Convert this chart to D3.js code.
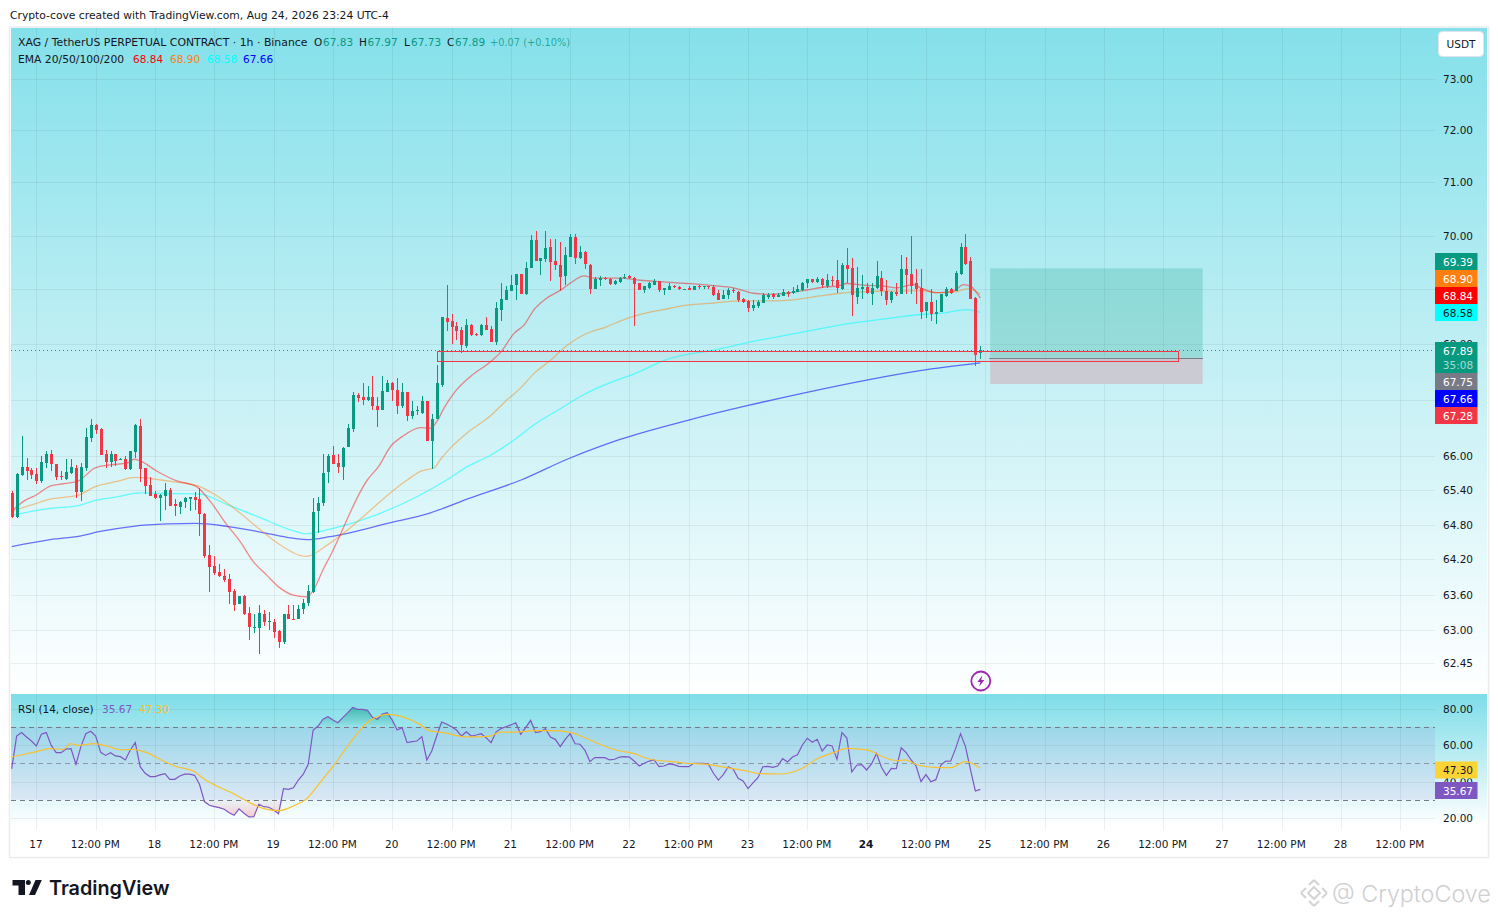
<!DOCTYPE html>
<html><head><meta charset="utf-8">
<script src="https://cdn.jsdelivr.net/npm/d3@7"></script>
<style>
html,body{margin:0;padding:0;background:#fff;width:1498px;height:918px;overflow:hidden}
text{font-family:"DejaVu Sans",sans-serif;font-size:10.5px;fill:#131722}
</style></head><body>
<script>
const candleHigh=[65.38,65.70,66.35,65.96,65.79,65.79,66.00,66.08,66.10,65.85,
65.73,65.95,65.94,65.84,65.87,66.50,66.66,66.57,66.49,66.11,
66.08,66.04,65.97,65.99,66.08,66.57,66.66,65.78,65.62,65.38,
65.33,65.53,65.44,65.24,65.21,65.27,65.28,65.37,65.44,65.00,
64.45,64.25,64.12,64.04,63.95,63.69,63.58,63.59,63.39,63.27,
63.42,63.34,63.31,63.18,63.00,63.27,63.42,63.42,63.42,63.52,
63.76,65.26,65.27,66.03,66.03,66.18,66.04,66.16,66.56,67.14,
67.12,67.29,67.24,67.43,67.04,67.43,67.36,67.31,67.39,67.29,
67.14,66.98,66.89,67.07,66.98,66.75,67.62,68.49,69.09,68.54,
68.40,68.31,68.45,68.37,68.21,68.37,68.49,68.33,68.76,69.12,
69.06,69.26,69.29,69.28,69.51,70.01,70.09,69.58,70.09,69.94,
69.94,69.88,69.78,70.03,70.03,69.81,69.72,69.48,69.23,69.24,
69.23,69.21,69.18,69.23,69.29,69.26,69.23,69.11,69.06,69.14,
69.19,69.15,69.03,69.11,69.08,69.06,69.01,69.06,69.06,69.09,
69.07,69.07,69.09,68.99,68.99,69.03,69.02,68.97,68.85,68.80,
68.80,68.80,68.94,68.94,68.93,68.93,69.00,68.98,69.04,69.08,
69.14,69.20,69.20,69.23,69.22,69.28,69.25,69.55,69.49,69.76,
69.59,69.42,69.27,69.12,69.11,69.52,69.34,69.17,68.98,69.12,
69.63,69.60,70.00,69.38,69.38,68.77,69.00,68.80,68.92,69.04,
69.02,69.34,69.86,70.03,69.61,68.86,67.97];
const candleLow=[64.91,64.92,65.64,65.57,65.59,65.50,65.53,65.79,65.73,65.57,
65.57,65.57,65.68,65.26,65.21,65.73,66.24,66.38,66.01,65.79,
65.80,65.82,65.92,65.75,65.75,65.97,65.54,65.33,65.30,65.24,
64.86,65.06,65.12,64.95,64.99,65.08,65.03,65.06,64.61,64.22,
63.65,63.93,63.89,63.82,63.44,63.32,63.44,63.26,62.84,62.95,
62.59,63.06,63.00,62.87,62.70,62.77,63.18,63.17,63.18,63.27,
63.41,63.63,64.65,65.12,65.53,65.85,65.70,65.58,66.15,66.42,
66.95,66.91,66.98,66.81,66.51,66.82,67.14,66.98,66.75,66.85,
66.62,66.66,66.72,66.75,66.26,65.76,66.65,67.22,68.24,68.00,
68.08,67.83,67.93,68.14,68.15,68.14,68.26,68.03,67.98,68.43,
68.80,68.97,68.80,68.91,68.89,69.40,69.52,69.26,69.51,69.15,
69.36,68.97,69.09,69.61,69.48,69.57,69.37,68.91,69.00,69.06,
69.17,69.08,69.09,69.12,69.20,69.20,68.33,68.99,68.93,69.01,
69.09,68.95,68.90,68.99,69.03,68.99,68.99,68.99,68.99,69.01,
69.01,69.01,68.88,68.80,68.82,68.82,68.93,68.77,68.75,68.58,
68.60,68.66,68.75,68.83,68.83,68.86,68.88,68.86,68.92,68.95,
68.98,69.03,69.12,69.11,69.03,69.02,69.06,68.94,68.99,69.12,
68.51,68.74,68.83,68.91,68.71,69.00,68.88,68.72,68.75,68.88,
68.91,68.91,68.91,68.74,68.45,68.47,68.43,68.37,68.58,68.87,
68.91,68.97,69.27,69.46,68.82,67.60,67.73];
const candleOpen=[65.34,64.93,65.66,65.80,65.75,65.68,65.55,65.87,66.03,65.85,
65.64,65.59,65.69,65.78,65.37,65.78,66.32,66.55,66.48,66.03,
65.90,66.03,65.92,65.95,65.76,66.07,66.53,65.78,65.48,65.33,
65.26,65.30,65.40,65.15,65.10,65.19,65.24,65.28,65.24,64.99,
64.27,64.08,63.99,63.91,63.86,63.66,63.44,63.57,63.28,63.04,
63.04,63.27,63.14,63.14,62.98,62.79,63.27,63.19,63.19,63.35,
63.46,63.65,65.03,65.18,65.72,66.01,65.88,65.80,66.15,66.48,
67.08,67.05,67.00,67.05,66.89,66.82,67.14,67.30,67.18,66.89,
67.13,66.71,66.79,66.76,66.98,66.26,66.65,67.27,68.48,68.42,
68.33,68.26,67.97,68.35,68.19,68.16,68.35,68.28,68.04,68.62,
68.81,68.97,69.08,69.28,68.91,69.40,69.92,69.52,69.57,69.79,
69.52,69.45,69.25,69.61,69.97,69.58,69.70,69.46,69.01,69.18,
69.21,69.20,69.10,69.13,69.21,69.25,69.21,69.11,68.99,69.03,
69.09,69.15,68.99,68.99,69.06,69.04,68.99,69.03,68.99,69.06,
69.05,69.06,69.04,68.93,68.83,68.89,68.99,68.96,68.83,68.79,
68.65,68.69,68.75,68.87,68.91,68.87,68.88,68.96,68.93,68.96,
68.99,69.11,69.19,69.14,69.20,69.07,69.17,69.17,69.00,69.46,
69.40,68.87,69.01,69.04,68.91,69.02,69.22,68.98,68.80,68.95,
68.92,69.37,69.28,69.11,69.03,68.60,68.77,68.54,68.58,68.88,
69.00,68.98,69.28,69.79,69.52,68.85,67.83];
const candleClose=[64.93,65.68,65.81,65.73,65.66,65.56,65.89,66.03,65.85,65.62,
65.62,65.72,65.80,65.37,65.80,66.33,66.55,66.45,66.01,65.89,
66.03,65.91,65.95,65.76,66.08,66.55,65.77,65.47,65.30,65.26,
65.31,65.40,65.12,65.12,65.20,65.26,65.27,65.22,64.98,64.26,
64.07,63.96,63.91,63.84,63.65,63.42,63.58,63.27,63.05,63.05,
63.28,63.14,63.15,62.97,62.79,63.27,63.18,63.18,63.36,63.45,
63.66,65.02,65.18,65.70,65.99,65.86,65.80,66.14,66.49,67.09,
67.02,67.00,67.05,66.88,66.82,67.16,67.30,67.18,66.89,67.13,
66.71,66.79,66.81,66.98,66.26,66.65,67.29,68.49,68.41,68.32,
68.24,67.98,68.35,68.17,68.16,68.35,68.26,68.04,68.65,68.83,
68.99,69.09,69.28,68.91,69.40,69.92,69.52,69.58,69.77,69.50,
69.45,69.23,69.63,69.97,69.59,69.70,69.47,69.01,69.20,69.21,
69.20,69.10,69.15,69.22,69.23,69.21,69.10,68.99,69.06,69.11,
69.15,68.99,69.02,69.06,69.05,69.00,69.01,68.99,69.06,69.04,
69.06,69.04,68.90,68.81,68.89,68.99,68.98,68.81,68.76,68.65,
68.72,68.77,68.90,68.89,68.87,68.89,68.96,68.91,68.98,69.00,
69.11,69.19,69.14,69.20,69.09,69.17,69.15,69.02,69.45,69.37,
68.90,69.02,69.04,68.93,69.03,69.24,68.97,68.80,68.95,68.91,
69.37,69.26,69.06,69.00,68.59,68.77,68.54,68.59,68.92,69.00,
68.94,69.30,69.79,69.47,68.83,67.80,67.89];

const ema20Bars=[0,2.7,4.7,7.8,10.5,13.5,16.9,19.9,23.3,24.8,26,29.4,33.4,37.4,40.1,43.5,46.2,48.9,51.6,54,57,59.7,61,63.1,64.4,72,74.3,76.7,79,82.8,84.8,86.1,87.5,89.8,92.9,96.9,99,101.7,103.7,105.7,108.1,111.1,113.1,115.8,117.8,123.2,127.2,131.9,136.6,142,146.1,150.1,153.5,156.9,160.9,165,167,169,172.4,176.4,179.1,182.5,183.9,187.2,190.6,192.6,194,196];
const ema20=[65.03,65.22,65.30,65.47,65.51,65.56,65.79,65.84,65.87,65.94,65.91,65.73,65.56,65.46,65.21,64.80,64.51,64.16,63.93,63.73,63.59,63.56,63.67,64.04,64.25,65.58,65.82,66.17,66.34,66.50,66.49,66.62,66.85,67.15,67.42,67.68,67.86,68.20,68.35,68.63,68.83,68.99,69.12,69.25,69.21,69.21,69.17,69.14,69.11,69.07,69.03,68.93,68.91,68.93,68.99,69.05,69.06,69.11,69.08,69.06,69.03,69.09,69.03,68.94,68.97,69.09,69.06,68.84];
const ema50Bars=[0,4.7,7.8,13.5,16.9,21.3,25,27.3,31.4,37.8,41.5,46.2,50.3,54.3,59.7,64.4,80.1,82.8,85.5,86.8,88.8,92.2,96.9,100.3,103,105.7,109.1,112.4,115.8,120.5,123.1,127.2,131.9,136.6,142,147.4,153.5,158.2,163.6,167.7,170.4,177.1,183.9,187.2,190.6,193.3,194.6,196];
const ema50=[65.03,65.16,65.24,65.31,65.46,65.55,65.62,65.61,65.56,65.47,65.30,65.00,64.71,64.45,64.25,64.48,65.58,65.73,65.79,65.94,66.14,66.41,66.71,67.00,67.21,67.47,67.71,67.98,68.17,68.32,68.42,68.54,68.63,68.71,68.75,68.79,68.79,68.81,68.88,68.93,68.95,68.97,68.98,68.94,68.95,69.01,68.99,68.91];
const ema100Bars=[0,7.8,13.5,16.9,21.3,26,31.4,38.1,43.5,50.3,55.7,59.7,64.4,88.1,92.2,96.9,102.3,105.7,111.1,115.8,121.9,125.1,133.2,142,150.1,158.9,169,175.8,183.9,187.9,193.3,196];
const ema100=[64.96,65.08,65.13,65.22,65.28,65.35,65.34,65.33,65.15,64.92,64.73,64.64,64.72,65.58,65.81,66.01,66.32,66.55,66.84,67.09,67.33,67.43,67.74,67.89,68.05,68.20,68.37,68.45,68.54,68.56,68.63,68.58];
const ema200Bars=[0,7.8,13.8,17.9,24.6,31.4,37.4,43.5,50.3,55.7,59.7,64.4,76.5,84.6,92.7,103.2,112.4,119.2,123.1,136.8,148.8,160.9,173,183.8,196];
const ema200=[64.42,64.54,64.60,64.68,64.77,64.81,64.82,64.77,64.67,64.58,64.54,64.59,64.83,65.00,65.26,65.58,65.94,66.17,66.29,66.63,66.89,67.13,67.35,67.52,67.66];

const rsi=[47.0,64.9,66.8,64.4,62.2,59.5,65.9,66.8,59.8,55.8,55.8,57.8,58.0,49.4,59.1,66.2,67.5,64.9,56.0,54.3,
55.8,54.0,53.6,51.8,57.3,61.3,48.1,44.5,42.7,42.7,43.6,44.3,41.2,41.2,43.0,44.0,44.0,43.4,38.5,29.0,
27.0,26.2,25.7,24.8,22.9,21.5,25.0,22.6,20.6,20.7,27.5,26.2,25.9,24.4,22.4,36.1,35.7,36.6,40.8,44.0,
49.4,68.2,70.4,74.1,75.5,73.7,72.2,75.0,77.7,80.6,79.5,79.5,79.0,75.2,74.1,77.0,77.7,73.7,68.2,69.5,
61.3,61.8,62.2,64.6,51.8,56.7,64.9,72.6,71.5,70.0,68.2,64.9,67.3,64.9,65.5,66.2,64.0,61.3,67.1,69.0,
70.0,71.0,72.2,65.9,69.5,73.5,66.8,67.3,69.0,64.4,63.1,59.1,63.1,66.2,60.7,60.4,57.1,50.9,53.1,53.1,
53.1,51.8,52.2,53.4,53.6,53.4,51.1,48.5,50.0,51.2,51.8,48.1,48.5,49.6,49.2,48.3,48.1,48.1,50.0,50.0,
50.0,49.4,44.5,40.8,43.8,48.1,46.7,41.7,40.3,36.1,39.2,42.1,48.1,48.3,47.8,48.5,52.5,50.7,53.4,54.7,
60.0,63.7,61.5,63.1,56.7,60.0,59.5,52.2,66.8,63.8,45.2,48.9,49.2,46.3,49.6,55.4,47.8,43.4,47.2,47.0,
58.5,55.8,51.8,48.5,39.9,43.8,39.9,41.0,48.9,51.2,51.1,58.0,66.2,59.1,46.7,34.8,35.67];
const rsiMaBars=[0,5,7.8,10.5,11.8,13.5,16.5,19.2,22,24.6,27.3,30.7,33.4,36.8,38.8,41.5,44.9,48.2,51,54,57,59.7,62.4,65.1,68.5,71.9,76.2,79.3,82.6,84.7,87.4,92,96.8,98.9,102.2,105.6,109,112.8,115.7,119,122.4,125.8,129.2,132.6,136.6,140.7,144.7,148.1,151.5,155.5,159.6,163,166.3,169,173.1,176.4,179.2,180.8,183.2,187.3,190,193,196];
const rsiMa=[53.4,56.4,58.0,57.6,60.7,59.8,60.7,59.5,57.4,57.6,55.8,51.2,48.1,45.8,41.6,37.5,33.3,28.4,25.1,24.0,26.6,30.6,39.4,48.5,61.3,72.2,76.8,75.3,71.3,67.7,66.8,64.4,64.9,67.1,67.1,67.9,67.9,67.1,64.4,60.4,57.1,55.4,52.2,51.1,50.0,49.4,47.6,46.1,44.3,44.1,46.7,52.5,55.8,58.2,57.3,53.4,51.4,51.8,49.2,47.6,47.6,50.9,47.30];

const priceGrid=[73,72,71,70,69,68,67,66,65.4,64.8,64.2,63.6,63,62.45];
const priceTicks=[73,72,71,70,68,66,65.4,64.8,64.2,63.6,63,62.45];
const rsiTicks=[80,60,40,20];
const rsiLevels=[70,50,30];
const timeBars=d3.range(5,283,12);
const timeLabels=["17","12:00 PM","18","12:00 PM","19","12:00 PM","20","12:00 PM","21","12:00 PM","22","12:00 PM","23","12:00 PM","24","12:00 PM","25","12:00 PM","26","12:00 PM","27","12:00 PM","28","12:00 PM"];
const takeProfit=69.39, entryPrice=67.75, stopLoss=67.28, lastPrice=67.89;
const positionBars=[198,241];
const zoneBars=[86,236], zonePrices=[67.87,67.69];
const priceTags=[["69.39","#089981","#fff",261.5],["68.90","#ff7f0e","#fff",278.5],["68.84","#ff0000","#fff",295.5],["68.58","#00ffff","#131722",312.5],["67.75","#787b86","#fff",381.5],["67.66","#0000ff","#fff",398.5],["67.28","#f23645","#fff",415.5]];

const svg=d3.select("body").append("svg").attr("width",1498).attr("height",918).style("display","block");
const defs=svg.append("defs");
function grad(id,top,stops){const g=defs.append("linearGradient").attr("id",id).attr("x1",0).attr("x2",0).attr("y1",0).attr("y2",1);
 stops.forEach(s=>g.append("stop").attr("offset",s[0]).attr("stop-color",s[1]).attr("stop-opacity",s[2]==null?1:s[2]));}
grad("bgMain",0,[[0,"#84e0ea"],[1,"#ffffff"]]);
grad("bgRsi",0,[[0,"#7edde8"],[0.97,"#ffffff"]]);
grad("obFill",0,[[0,"#089981",0.55],[1,"#089981",0.05]]);
grad("osFill",0,[[0,"#f23645",0.02],[1,"#f23645",0.25]]);

const L=10,R=1488,PR=1435,T=28,B=693,RT=694,RB=830;
const x=d3.scaleLinear().domain([0,196]).range([11.7,980.3]);
const y=d3.scaleLog().domain([73,63]).range([78.5,630]);
const ry=d3.scaleLinear().domain([80,20]).range([708.5,818]);
const crisp=v=>Math.round(v)+.5;

// header & frame
svg.append("text").attr("x",10).attr("y",19).style("font-size","10.75px").text("Crypto-cove created with TradingView.com, Aug 24, 2026 23:24 UTC-4");
svg.append("rect").attr("x",9.5).attr("y",27).attr("width",1479).attr("height",830.5).attr("fill","#fff").attr("stroke","#e9ecef").attr("stroke-width",1.5);
svg.append("rect").attr("x",L+1).attr("y",T).attr("width",R-L-2).attr("height",B-T).attr("fill","url(#bgMain)");
svg.append("rect").attr("x",L+1).attr("y",RT).attr("width",R-L-2).attr("height",RB-RT).attr("fill","url(#bgRsi)");

// grid
const grid=svg.append("g").attr("stroke","#2a2e39").attr("stroke-opacity",0.07).attr("shape-rendering","crispEdges");
timeBars.forEach(b=>{const px=crisp(x(b));
 grid.append("line").attr("x1",px).attr("x2",px).attr("y1",T).attr("y2",B);
 grid.append("line").attr("x1",px).attr("x2",px).attr("y1",RT).attr("y2",RB);});
priceGrid.forEach(p=>{const py=crisp(y(p));grid.append("line").attr("x1",L+1).attr("x2",PR).attr("y1",py).attr("y2",py);});
rsiTicks.forEach(p=>{const py=crisp(ry(p));grid.append("line").attr("x1",L+1).attr("x2",PR).attr("y1",py).attr("y2",py);});

// price tick labels
svg.append("g").selectAll("text").data(priceTicks).join("text").attr("x",1458).attr("y",d=>y(d)+4).attr("text-anchor","middle").text(d=>d.toFixed(2));

// position tool
svg.append("rect").attr("x",x(positionBars[0])).attr("width",x(positionBars[1])-x(positionBars[0])).attr("y",y(takeProfit)).attr("height",y(entryPrice)-y(takeProfit)).attr("fill","#089981").attr("fill-opacity",0.22);
svg.append("rect").attr("x",x(positionBars[0])).attr("width",x(positionBars[1])-x(positionBars[0])).attr("y",y(entryPrice)).attr("height",y(stopLoss)-y(entryPrice)).attr("fill","#cbcbd3");
svg.append("line").attr("x1",x(positionBars[0])-1).attr("x2",x(positionBars[1])).attr("y1",crisp(y(entryPrice))).attr("y2",crisp(y(entryPrice))).attr("stroke","#787b86").attr("stroke-width",1).attr("shape-rendering","crispEdges");

// EMAs
const line=d3.line().curve(d3.curveMonotoneX).x(d=>x(d[0])).y(d=>y(d[1]));
function ema(bars,vals,color,op){svg.append("path").attr("d",line(bars.map((b,i)=>[b,vals[i]]))).attr("fill","none").attr("stroke",color).attr("stroke-opacity",op).attr("stroke-width",1.3);}
ema(ema200Bars,ema200,"#0000ff",0.55);
ema(ema100Bars,ema100,"#00ffff",0.55);
ema(ema50Bars,ema50,"#ff8000",0.45);
ema(ema20Bars,ema20,"#ff0000",0.45);

// candles
const bull="#089981",bear="#f23645";
const c=svg.append("g").attr("shape-rendering","crispEdges");
const idx=d3.range(candleOpen.length);
c.selectAll("line").data(idx).join("line")
 .attr("x1",i=>Math.round(x(i))+.5).attr("x2",i=>Math.round(x(i))+.5)
 .attr("y1",i=>y(candleHigh[i])).attr("y2",i=>y(candleLow[i]))
 .attr("stroke",i=>candleClose[i]>=candleOpen[i]?bull:bear);
c.selectAll("rect").data(idx).join("rect")
 .attr("x",i=>Math.round(x(i))-1).attr("width",3)
 .attr("y",i=>y(Math.max(candleOpen[i],candleClose[i])))
 .attr("height",i=>Math.max(1,y(Math.min(candleOpen[i],candleClose[i]))-y(Math.max(candleOpen[i],candleClose[i]))))
 .attr("fill",i=>candleClose[i]>=candleOpen[i]?bull:bear);

// last price dotted
svg.append("line").attr("x1",L+1).attr("x2",PR).attr("y1",crisp(y(lastPrice))).attr("y2",crisp(y(lastPrice))).attr("stroke",bull).attr("stroke-width",1).attr("stroke-dasharray","1,3").attr("shape-rendering","crispEdges");

// red zone rectangle
svg.append("rect").attr("x",crisp(x(zoneBars[0]))).attr("width",Math.round(x(zoneBars[1])-x(zoneBars[0]))).attr("y",crisp(y(zonePrices[0]))).attr("height",Math.round(y(zonePrices[1])-y(zonePrices[0])))
 .attr("fill","#b4b0b8").attr("fill-opacity",0.13).attr("stroke","#f23645").attr("stroke-width",1).attr("shape-rendering","crispEdges");

// price tags
const tags=svg.append("g");
priceTags.forEach(t=>{tags.append("rect").attr("x",1435).attr("y",t[3]-8.5).attr("width",42.5).attr("height",17).attr("fill",t[1]);
 tags.append("text").attr("x",1458).attr("y",t[3]+4).attr("text-anchor","middle").style("fill",t[2]).text(t[0]);});
tags.append("rect").attr("x",1435).attr("y",342).attr("width",42.5).attr("height",31).attr("fill",bull);
tags.append("text").attr("x",1458).attr("y",354.5).attr("text-anchor","middle").style("fill","#fff").text("67.89");
tags.append("text").attr("x",1458).attr("y",368.5).attr("text-anchor","middle").style("fill","#fff").style("fill-opacity",0.65).text("35:08");

// USDT button
svg.append("rect").attr("x",1438.5).attr("y",31.5).attr("width",45).attr("height",25).attr("rx",4).attr("fill","#fff").attr("stroke","#e0e3eb");
svg.append("text").attr("x",1461).attr("y",48).attr("text-anchor","middle").text("USDT");

// legend
function seq(yy,parts){parts.forEach(p=>svg.append("text").attr("x",p[0]).attr("y",yy).style("fill",p[2]||"#131722").style("fill-opacity",p[3]||1).style("font-size",(p[4]||10.5)+"px").text(p[1]));}
seq(46,[[18,"XAG / TetherUS PERPETUAL CONTRACT · 1h · Binance",null,1,10.88],[314,"O"],[323,"67.83",bull],[359,"H"],[367.5,"67.97",bull],[404,"L"],[411,"67.73",bull],[447,"C"],[455,"67.89",bull],[490,"+0.07 (+0.10%)",bull,0.8,9.8]]);
seq(63,[[18,"EMA 20/50/100/200",null,1,10.75],[133,"68.84","#ff0000"],[170,"68.90","#ff7f0e"],[207,"68.58","#00ffff"],[243,"67.66","#0000ff"]]);

// lightning
const bx=x(196);
svg.append("circle").attr("cx",bx+0.5).attr("cy",681).attr("r",9.5).attr("fill","none").attr("stroke","#9c27b0").attr("stroke-width",1.8);
svg.append("path").attr("transform",`translate(${bx+0.5},681)`).attr("d","M1.5,-5.5 L-3.5,1 L-0.5,1 L-1.5,5.5 L3.5,-1 L0.5,-1 Z").attr("fill","#9c27b0");

// RSI pane
svg.append("rect").attr("x",L+1).attr("width",PR-L-1).attr("y",ry(70)).attr("height",ry(30)-ry(70)).attr("fill","#7e57c2").attr("fill-opacity",0.1);
rsiLevels.forEach(l=>svg.append("line").attr("x1",L+1).attr("x2",PR).attr("y1",crisp(ry(l))).attr("y2",crisp(ry(l))).attr("stroke","#787b86").attr("stroke-opacity",l===50?0.7:1).attr("stroke-dasharray","5,4").attr("shape-rendering","crispEdges"));
svg.append("path").attr("d",d3.area().x((d,i)=>x(i)).y0(ry(70)).y1(d=>ry(Math.max(d,70)))(rsi)).attr("fill","url(#obFill)");
svg.append("path").attr("d",d3.area().x((d,i)=>x(i)).y0(ry(30)).y1(d=>ry(Math.min(d,30)))(rsi)).attr("fill","url(#osFill)");
svg.append("path").attr("d",d3.line().x((d,i)=>x(i)).y(d=>ry(d))(rsi)).attr("fill","none").attr("stroke","#7e57c2").attr("stroke-width",1.2);
svg.append("path").attr("d",d3.line().curve(d3.curveMonotoneX).x((d,i)=>x(rsiMaBars[i])).y(d=>ry(d))(rsiMa)).attr("fill","none").attr("stroke","#fbc02d").attr("stroke-width",1.2);
svg.append("g").selectAll("text").data(rsiTicks).join("text").attr("x",1458).attr("y",d=>ry(d)+4).attr("text-anchor","middle").text(d=>d.toFixed(2));
[["47.30","#fbd335","#131722",770],["35.67","#7e57c2","#fff",790.5]].forEach(t=>{
 svg.append("rect").attr("x",1435).attr("y",t[3]-8.5).attr("width",42.5).attr("height",17).attr("fill",t[1]);
 svg.append("text").attr("x",1458).attr("y",t[3]+4).attr("text-anchor","middle").style("fill",t[2]).text(t[0]);});
seq(713,[[18,"RSI (14, close)"],[102,"35.67","#7e57c2"],[139,"47.30","#fbc02d"]]);

// time axis
svg.append("g").selectAll("text").data(timeBars).join("text").attr("x",d=>x(d)-0.5).attr("y",848).attr("text-anchor","middle")
 .style("font-weight",(d,i)=>timeLabels[i]==="24"?"bold":null).text((d,i)=>timeLabels[i]);

// TradingView logo
const logo=svg.append("g").attr("fill","#131722");
logo.append("path").attr("d","M12.5,880 H25 V895 H18.5 V885.5 H12.5 Z");
logo.append("circle").attr("cx",28.3).attr("cy",882.5).attr("r",2.5);
logo.append("path").attr("d","M35.5,880 H41.8 L35,895 H29 Z");
svg.append("text").attr("x",49).attr("y",895).style("font-family","Inter").style("font-size","19.8px").style("font-weight",600).text("TradingView");

// watermark
const wm=svg.append("g").attr("fill","none").attr("stroke","#d4d4d6").attr("stroke-width",2).attr("transform","translate(1314,893)");
wm.append("path").attr("d","M0,-13 L5,-8 M-5,-8 L0,-13 M-13,0 L-8,-5 M-13,0 L-8,5 M13,0 L8,-5 M13,0 L8,5 M0,13 L-5,8 M0,13 L5,8 M0,-6 L6,0 L0,6 L-6,0 Z");
svg.append("text").attr("x",1332).attr("y",902).style("font-family","Inter").style("font-size","23.3px").style("font-weight",300).style("fill","#cfcfd2").text("@ CryptoCove");
</script>
</body></html>
